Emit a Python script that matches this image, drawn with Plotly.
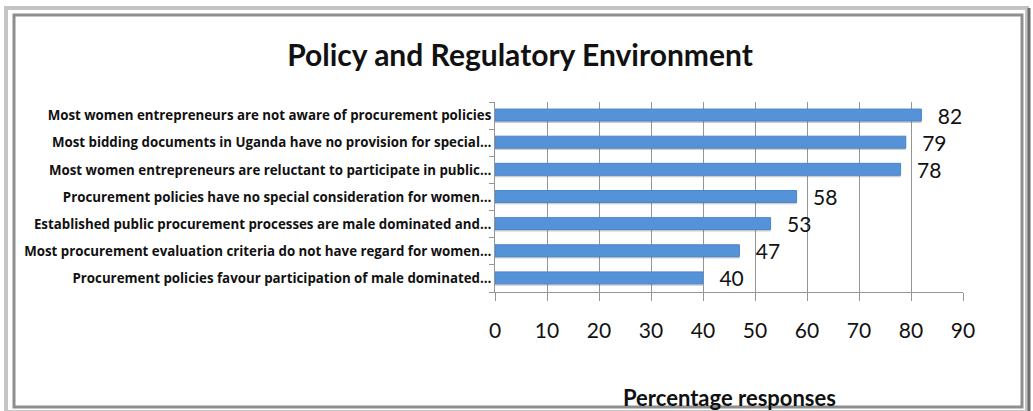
import plotly.graph_objects as go

# Survey statements (top to bottom) and percentage of respondents agreeing
statements = [
    "Most women entrepreneurs are not aware of procurement policies",
    "Most bidding documents in Uganda have no provision for special…",
    "Most women entrepreneurs are reluctant to participate in public…",
    "Procurement policies have no special consideration for women…",
    "Established public procurement processes are male dominated and…",
    "Most procurement evaluation criteria do not have regard for women…",
    "Procurement policies favour participation of male dominated…",
]
percentages = [82, 79, 78, 58, 53, 47, 40]
x_ticks = [0, 10, 20, 30, 40, 50, 60, 70, 80, 90]

W, H = 1033, 411
L, R, T, B = 495, 70, 102, 119
pw, ph = W - L - R, H - T - B

FONT = "Lato, Carlito, sans-serif"
LABEL_FONT = "Open Sans, sans-serif"


def px(x):
    return (x - L) / pw


def py(y):
    return (H - B - y) / ph


fig = go.Figure()

# soft drop shadow under each bar
fig.add_trace(go.Bar(
    y=statements, x=percentages, orientation="h",
    width=0.44, offset=-0.17,
    marker=dict(color="rgba(90,90,90,0.30)", line=dict(width=0)),
    hoverinfo="skip", showlegend=False,
))

fig.add_trace(go.Bar(
    y=statements, x=percentages, orientation="h",
    width=0.44, offset=-0.24,
    marker=dict(color="#5592d8", line=dict(color="#4a86cc", width=1)),
    text=percentages, texttemplate="  \u2009%{text}", textposition="outside",
    constraintext="none",
    textfont=dict(family=FONT, size=21, color="#111111"),
    cliponaxis=False, showlegend=False,
))

fig.update_layout(
    width=W, height=H,
    margin=dict(l=L, r=R, t=T, b=B),
    paper_bgcolor="white", plot_bgcolor="white",
    barmode="overlay",
    title=dict(
        text="<b>Policy and Regulatory Environment</b>",
        x=520 / W, xanchor="center", y=1 - 55 / H, yanchor="middle",
        font=dict(family=FONT, size=30, color="#111111"),
    ),
    xaxis=dict(
        range=[0, 90], tickvals=x_ticks,
        showgrid=True, gridcolor="#959595", gridwidth=1,
        showline=True, linecolor="#959595", linewidth=1,
        ticks="outside", ticklen=8, tickcolor="#959595",
        ticklabelstandoff=12,
        tickfont=dict(family=FONT, size=21, color="#111111"),
        zeroline=False, mirror=False,
    ),
    yaxis=dict(
        autorange="reversed",
        tickvals=statements, ticktext=[f"<b>{s}</b>" for s in statements],
        showline=True, linecolor="#959595", linewidth=1,
        ticks="outside", ticklen=5, tickcolor="#959595", tickson="boundaries",
        showgrid=False,
        tickfont=dict(family=LABEL_FONT, size=13.3, color="#111111"),
    ),
    annotations=[dict(
        text="<b>Percentage responses</b>", xref="paper", yref="paper",
        x=0.5, y=py(397), xanchor="center", yanchor="middle", showarrow=False,
        font=dict(family=FONT, size=22, color="#111111"),
    )],
    shapes=[
        dict(type="rect", xref="paper", yref="paper", layer="above",
             x0=px(6), x1=px(1027), y0=py(8), y1=py(412),
             line=dict(color="#c4c4c4", width=4)),
        dict(type="rect", xref="paper", yref="paper", layer="above",
             x0=px(14), x1=px(1022), y0=py(15), y1=py(407),
             line=dict(color="#8e8e8e", width=3)),
        dict(type="line", xref="paper", yref="paper", layer="above",
             x0=px(1029), x1=px(1029), y0=py(8), y1=py(411),
             line=dict(color="#6e6e6e", width=3)),
    ],
)

fig.write_html("out.html")
